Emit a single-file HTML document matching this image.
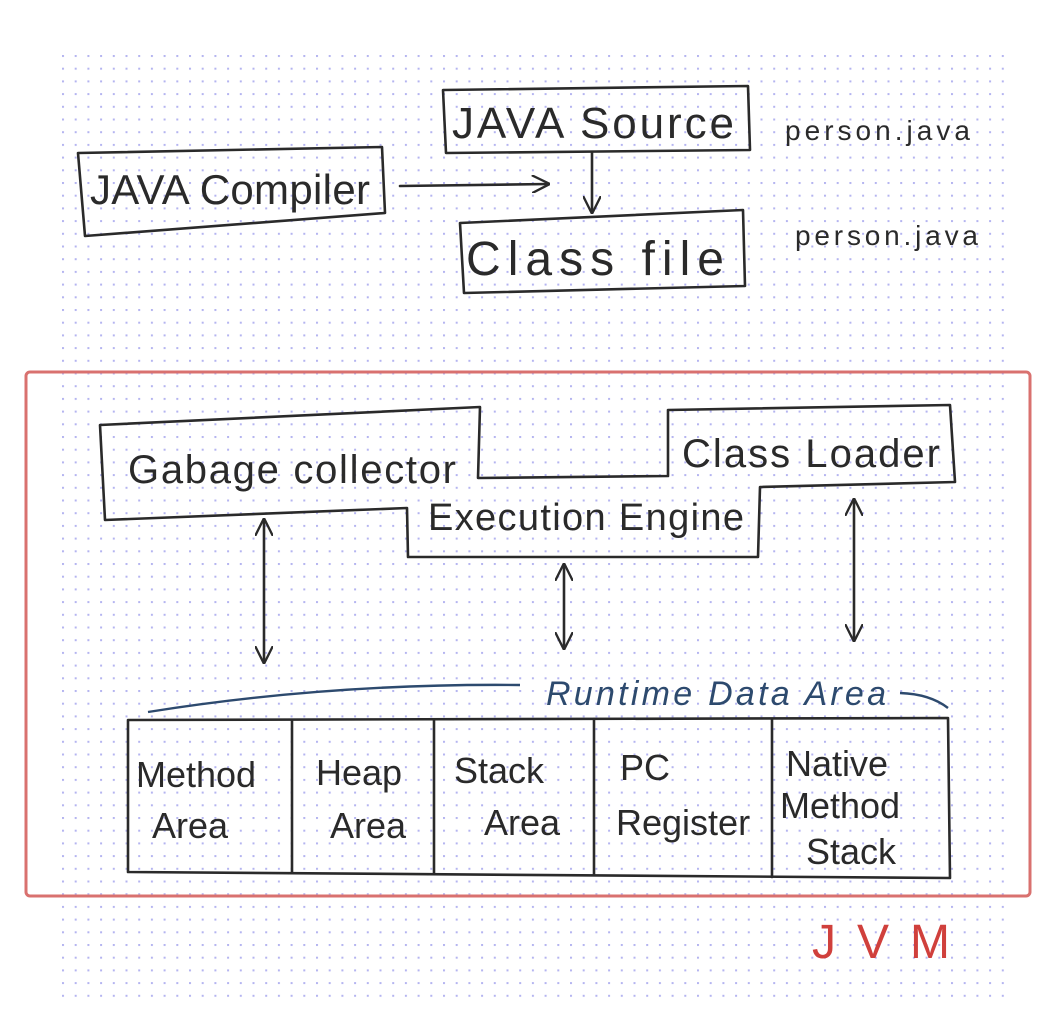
<!DOCTYPE html>
<html><head><meta charset="utf-8"><style>
html,body{margin:0;padding:0;background:#fff;}
svg{display:block}
text{font-family:"Liberation Sans","DejaVu Sans",sans-serif;fill:#2a2a2a}
</style></head><body>
<svg width="1063" height="1012" viewBox="0 0 1063 1012" xmlns="http://www.w3.org/2000/svg">
<defs>
<pattern id="dots" x="62" y="55" width="12.7" height="12.7" patternUnits="userSpaceOnUse">
<rect x="0" y="0" width="2" height="2" fill="#b4b4f0"/>
</pattern>
<marker id="ah" viewBox="0 0 10 10" refX="9" refY="5" markerWidth="18" markerHeight="18" orient="auto-start-reverse" markerUnits="userSpaceOnUse">
<path d="M0,0 L10,5 L0,10" fill="none" stroke="#2a2a2a" stroke-width="1.3"/>
</marker>
</defs>
<rect x="62" y="55" width="950" height="948" fill="url(#dots)"/>
<g fill="none" stroke="#2a2a2a" stroke-width="2.6" stroke-linecap="round" stroke-linejoin="round">
<path d="M443,90 L748,86 L750,150 L446,153 Z"/>
<path d="M78,153 L382,147 L385,213 L85,236 Z"/>
<path d="M460,223 L743,210 L745,286 L464,293 Z"/>
<path d="M400,186 L548,184" marker-end="url(#ah)"/>
<path d="M592,152 L592,212" marker-end="url(#ah)"/>
<path d="M100,425 L480,407 L478,478 L668,476 L668,410 L950,405 L955,482 L760,487 L758,557 L408,557 L407,508 L105,520 Z"/>
<path d="M264,520 L264,662" marker-start="url(#ah)" marker-end="url(#ah)"/>
<path d="M564,565 L564,648" marker-start="url(#ah)" marker-end="url(#ah)"/>
<path d="M854,500 L854,640" marker-start="url(#ah)" marker-end="url(#ah)"/>
<path d="M128,720 L948,718 L950,878 L128,872 Z"/>
<path d="M292,720 L292,872"/>
<path d="M434,720 L434,874"/>
<path d="M594,719 L594,875"/>
<path d="M772,719 L772,877"/>
</g>
<path d="M148,712 Q330,683 520,685" fill="none" stroke="#2d4a6e" stroke-width="2.4"/>
<path d="M900,693 Q930,694 948,708" fill="none" stroke="#2d4a6e" stroke-width="2.4"/>
<rect x="26" y="372" width="1004" height="524" rx="4" fill="none" stroke="#d9716f" stroke-width="3"/>
<g font-size="44">
<text x="452" y="138" textLength="282">JAVA Source</text>
<text x="90" y="204" font-size="42" textLength="280">JAVA Compiler</text>
<text x="466" y="275" font-size="48" textLength="258">Class file</text>
</g>
<text x="785" y="140" font-size="28" textLength="185">person.java</text>
<text x="795" y="245" font-size="28" textLength="183">person.java</text>
<text x="128" y="483" font-size="40" textLength="328">Gabage collector</text>
<text x="682" y="467" font-size="40" textLength="258">Class Loader</text>
<text x="428" y="530" font-size="38" textLength="316">Execution Engine</text>
<text x="546" y="705" font-size="34" font-style="italic" style="fill:#2d4a6e" textLength="340">Runtime Data Area</text>
<g font-size="36">
<text x="136" y="787">Method</text><text x="152" y="838">Area</text>
<text x="316" y="785">Heap</text><text x="330" y="838">Area</text>
<text x="454" y="783">Stack</text><text x="484" y="835">Area</text>
<text x="620" y="780">PC</text><text x="616" y="835">Register</text>
<text x="786" y="776">Native</text><text x="780" y="818">Method</text><text x="806" y="864">Stack</text>
</g>
<text x="812" y="958" font-size="48" style="fill:#d0403c" textLength="138">JVM</text>
</svg>
</body></html>
